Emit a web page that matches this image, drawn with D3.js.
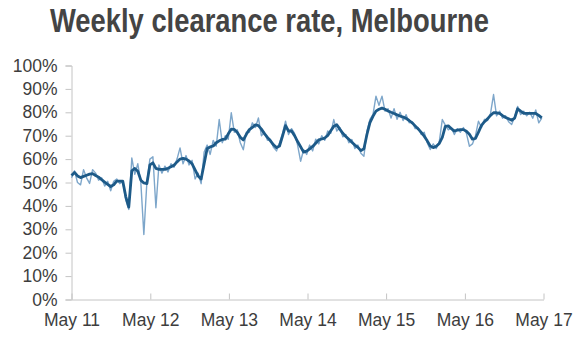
<!DOCTYPE html>
<html>
<head>
<meta charset="utf-8">
<script src="https://cdnjs.cloudflare.com/ajax/libs/d3/7.8.5/d3.min.js"></script>
<style>
  html, body { margin: 0; padding: 0; background: #fff; }
  svg { display: block; font-family: "Liberation Sans", Arial, sans-serif; }
</style>
</head>
<body>
<svg id="chart" width="580" height="352"></svg>
<script>
// ---- Data (fortnightly readings, starting May 2011) ----
const titleText = "Weekly clearance rate, Melbourne";
const startDate = new Date(2011, 4, 1);
const stepDays = 14;
const xTickLabels = ["May 11", "May 12", "May 13", "May 14", "May 15", "May 16", "May 17"];
const yTickValues = [0, 0.1, 0.2, 0.3, 0.4, 0.5, 0.6, 0.7, 0.8, 0.9, 1.0];

// weekly clearance rate (thin line), %
const weeklyRate = [
  52, 55, 50, 49, 55.5, 52, 49.6, 55.5, 54, 51,
  52, 48.5, 50.5, 46.5, 50.5, 51.5, 49.5, 50.5, 42.5, 38.5,
  60.5, 53.5, 58, 50, 27.8, 50, 60, 61, 39.2, 57.5,
  54, 57, 54.5, 58, 56.5, 60, 64.8, 58, 61.5, 57.5,
  59.5, 51.5, 54, 49.5, 63, 66, 62, 68, 65.5, 76.9,
  67, 70, 68.5, 79.8, 71.5, 72.5, 67, 64, 71.5, 71.5,
  75.5, 73.5, 77.6, 70, 71.5, 68, 68.5, 65, 63.5, 67,
  71, 76.2, 70.5, 73, 71, 66, 59.1, 64, 62, 66,
  63.5, 68.5, 66.5, 70, 68, 72, 71, 76.9, 72, 73.5,
  69.5, 70.5, 67, 68.4, 64.5, 66, 62.5, 61.2, 72, 77,
  79, 86.9, 83, 86.9, 80.5, 81.5, 77.5, 81.5, 77, 80,
  76.5, 79, 75.5, 76, 73, 73.5, 70.5, 71.5, 67, 64.1,
  66.5, 64.5, 67.5, 76.9, 74.5, 72.5, 73.5, 70.5, 73, 71.5,
  73.5, 71, 65.5, 66.5, 70, 76.2, 73.5, 77, 76.5, 79.5,
  87.6, 78.5, 80.5, 77.5, 78.5, 76, 74.8, 78, 82.5, 79,
  80.5, 78.5, 80, 77.5, 81, 75.5, 77.5
];

// smoothed clearance rate (thick line), %
const smoothedRate = [
  53, 54.3, 52.8, 52.1, 52.6, 53.1, 53.6, 53.8, 53, 52.3,
  51.2, 50.2, 49.2, 48.3, 49, 50.6, 50.6, 50.6, 44, 39.5,
  55, 56, 54.8, 51, 49.8, 49.5, 57.5, 58.4, 56, 55.6,
  55.6, 55.6, 56.1, 56.7, 57.4, 58.8, 60, 60.3, 60, 59.2,
  58, 55.4, 52.8, 51.5, 58, 64.5, 65.2, 65.6, 67, 67.8,
  68.4, 68.5, 70.8, 72.8, 72.7, 71.4, 69.3, 68.2, 70.6, 72.6,
  73.6, 74.6, 74.3, 72.8, 70.9, 69.3, 67.8, 66.1, 64.9, 65.6,
  69.8, 74.3, 72, 72, 70, 67.5, 65.3, 63, 63.4, 64.4,
  65.4, 66.8, 68.2, 68.6, 69, 70.1, 72.1, 74, 74.7, 72.8,
  71, 69.7, 68.5, 67.2, 66, 65, 63.6, 64.4, 70.5, 75.6,
  78.3, 80.5, 81.3, 81.8, 81.3, 80.6, 80, 79.5, 78.9, 78.4,
  78, 77.4, 76.5, 75.5, 74.2, 72.9, 71.4, 69.8, 67.8, 65.6,
  64.9, 65.5, 66.7, 69.3, 74, 74.2, 73, 72, 72.4, 72.6,
  72.6, 71.9, 70.6, 68.5, 68.8, 71.5, 74.4, 76, 77.2, 78.7,
  79.8, 79.8, 79.5, 78.6, 77.8, 77.2, 76.6, 77.5, 81.5, 80.5,
  79.6, 79.5, 79.5, 79.5, 79.5, 78.7, 77.6
];

// ---- Chart ----
const svg = d3.select("#chart");
const dateAt = i => d3.timeDay.offset(startDate, i * stepDays);

const x = d3.scaleTime()
  .domain([new Date(2011, 4, 1), new Date(2017, 4, 1)])
  .range([71.5, 543.5]);
const y = d3.scaleLinear().domain([0, 1]).range([299.5, 65.5]);

// Title
svg.append("text")
  .attr("x", 50).attr("y", 32)
  .attr("textLength", 439).attr("lengthAdjust", "spacingAndGlyphs")
  .attr("font-size", 33).attr("font-weight", "bold")
  .attr("fill", "#444444")
  .text(titleText);

// Y axis
const yAxis = d3.axisLeft(y)
  .tickValues(yTickValues)
  .tickFormat(d3.format(".0%"))
  .tickSize(6).tickPadding(8);
const gy = svg.append("g").attr("transform", "translate(71.5,0)").call(yAxis);
gy.select(".domain").attr("stroke", "#c4c4c4");
gy.selectAll(".tick line").attr("stroke", "#c4c4c4");
gy.selectAll(".tick text").attr("font-size", 17.5).attr("fill", "#3d3d3d")
  .attr("font-family", "'Liberation Sans', Arial, sans-serif");

// X axis
const xTicks = xTickLabels.map((_, k) => new Date(2011 + k, 4, 1));
const xAxis = d3.axisBottom(x)
  .tickValues(xTicks)
  .tickFormat((d, k) => xTickLabels[k])
  .tickSizeInner(-6).tickSizeOuter(0).tickPadding(14);
const gx = svg.append("g").attr("transform", "translate(0,299.5)").call(xAxis);
gx.select(".domain").attr("stroke", "#c4c4c4");
gx.selectAll(".tick line").attr("stroke", "#c4c4c4");
gx.selectAll(".tick text").attr("font-size", 17.5).attr("fill", "#3d3d3d")
  .attr("font-family", "'Liberation Sans', Arial, sans-serif");

// Lines
const line = d3.line()
  .x((d, i) => x(dateAt(i)))
  .y(d => y(d / 100));

svg.append("path")
  .datum(weeklyRate)
  .attr("fill", "none")
  .attr("stroke", "#7da6ca")
  .attr("stroke-width", 1.4)
  .attr("stroke-linejoin", "round")
  .attr("d", line);

svg.append("path")
  .datum(smoothedRate)
  .attr("fill", "none")
  .attr("stroke", "#1d5a88")
  .attr("stroke-width", 2.8)
  .attr("stroke-linejoin", "round")
  .attr("d", line);
</script>
</body>
</html>
